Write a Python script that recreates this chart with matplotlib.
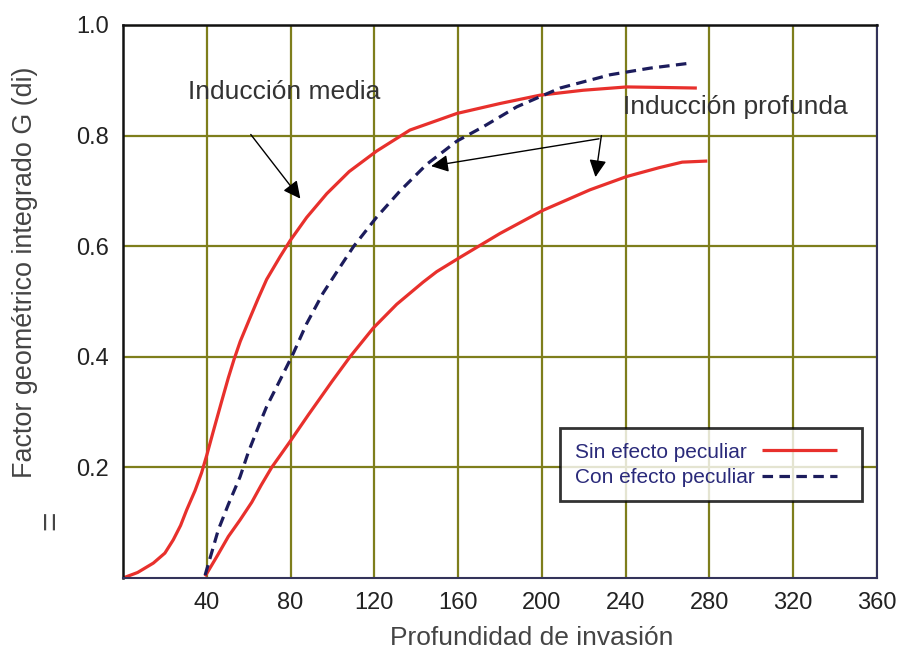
import matplotlib.pyplot as plt

# Invasion depth (x) and integrated geometric factor G (y) for each curve
media_x = [0, 7, 14.5, 20, 24, 27.5, 30.4, 34.4, 37.5, 40, 43.1, 47, 50.3, 53, 56,
           60.6, 64.5, 68.6, 75, 79.8, 87.7, 97.3, 108, 121.1, 137, 159.4, 180, 199,
           219.7, 240.5, 258, 274]
media_y = [0, 0.01, 0.027, 0.045, 0.069, 0.095, 0.123, 0.158, 0.19, 0.222, 0.265, 0.318,
           0.362, 0.395, 0.428, 0.47, 0.505, 0.54, 0.581, 0.61, 0.652, 0.695, 0.735,
           0.772, 0.81, 0.84, 0.858, 0.873, 0.882, 0.888, 0.887, 0.886]

profunda_x = [39.2, 45, 50.3, 55.9, 61.5, 66, 71, 75.5, 79.8, 88.5, 95.6, 99.7, 108.4,
              119.5, 130.7, 143.3, 149.8, 161, 180, 200.6, 223, 240.5, 256, 267, 279]
profunda_y = [0.003, 0.04, 0.075, 0.105, 0.137, 0.168, 0.2, 0.224, 0.247, 0.295, 0.333,
              0.355, 0.4, 0.452, 0.495, 0.535, 0.554, 0.58, 0.623, 0.665, 0.702, 0.726,
              0.742, 0.752, 0.754]

peculiar_x = [39.2, 45.5, 50.3, 55.9, 59.9, 64.7, 68.6, 75, 81.3, 87.7, 95.5, 102.7,
              110, 121, 132.3, 145, 159.4, 172, 188, 208.7, 232.6, 251.7, 270.8]
peculiar_y = [0.005, 0.087, 0.133, 0.183, 0.228, 0.274, 0.31, 0.358, 0.406, 0.46,
              0.515, 0.557, 0.599, 0.652, 0.7, 0.748, 0.79, 0.816, 0.852, 0.886, 0.91,
              0.922, 0.931]

xticks = [40, 80, 120, 160, 200, 240, 280, 320, 360]
yticks = [0.2, 0.4, 0.6, 0.8, 1.0]
ytick_labels = ['0.2', '0.4', '0.6', '0.8', '1.0']

red = '#e8302c'
navy = '#1c1c5c'
olive = '#7e7e1c'

plt.rcParams['font.family'] = ['Liberation Sans', 'DejaVu Sans']

fig = plt.figure(figsize=(8.99, 6.63), dpi=100)
ax = fig.add_axes([0.1368, 0.1282, 0.8387, 0.8341])

ax.plot(media_x, media_y, color=red, lw=2.3, solid_capstyle='butt')
ax.plot(profunda_x, profunda_y, color=red, lw=2.3, solid_capstyle='butt',
        label='Sin efecto peculiar')
ax.plot(peculiar_x, peculiar_y, color=navy, lw=2.3, dashes=(3.3, 2.0),
        label='Con efecto peculiar')

ax.set_xlim(0, 360)
ax.set_ylim(0, 1.0)
ax.set_xticks(xticks)
ax.set_yticks(yticks)
ax.set_yticklabels(ytick_labels)
ax.tick_params(length=0, labelsize=17, labelcolor='#222222', pad=10)
ax.grid(True, color=olive, lw=1.6)
ax.set_axisbelow(True)

for side in ['left', 'top']:
    ax.spines[side].set_color('#111111')
    ax.spines[side].set_linewidth(1.8)
for side in ['bottom', 'right']:
    ax.spines[side].set_color('#33335a')
    ax.spines[side].set_linewidth(1.5)

# Annotations with arrows
arrow = dict(arrowstyle='-|>', color='black', lw=1.0, mutation_scale=26)
ax.text(31, 0.879, 'Inducción media', fontsize=19, color='#333333', va='center')
ax.annotate('', xy=(85.5, 0.682), xytext=(60.2, 0.806), arrowprops=arrow)

ax.text(238.8, 0.852, 'Inducción profunda', fontsize=19, color='#333333', va='center')
ax.annotate('', xy=(145.8, 0.744), xytext=(228.6, 0.795), arrowprops=arrow)
ax.annotate('', xy=(225.4, 0.72), xytext=(228.6, 0.805), arrowprops=arrow)

leg = ax.legend(loc='upper left', bbox_to_anchor=(0.5796, 0.1338, 0.4005, 0.1374),
                mode='expand', markerfirst=False, fontsize=15, handlelength=3.6,
                frameon=True, fancybox=False, borderpad=0.7, labelspacing=0.3,
                handletextpad=0.35, borderaxespad=0)
leg.get_frame().set_edgecolor('black')
leg.get_frame().set_linewidth(2.0)
for t in leg.get_texts():
    t.set_color('#2a2a7a')

# left-align the legend labels while keeping the line samples in one column
fig.canvas.draw()
renderer = fig.canvas.get_renderer()
widths = [t.get_window_extent(renderer).width for t in leg.get_texts()]
column = leg._legend_handle_box.get_children()[0]
column.align = 'left'
for row, w in zip(column.get_children(), widths):
    row.sep += (max(widths) - w) * 72 / fig.dpi

fig.text(0.591, 0.02, 'Profundidad de invasión', fontsize=19, color='#444444',
         ha='center', va='bottom')
fig.text(0.028, 0.589, 'Factor geométrico integrado G (di)', fontsize=19.4,
         color='#444444', rotation=90, ha='center', va='center')
fig.text(0.058, 0.216, '=', fontsize=24, color='#444444', rotation=90,
         ha='center', va='center')

fig.savefig('out.png', dpi=100, facecolor='white')
